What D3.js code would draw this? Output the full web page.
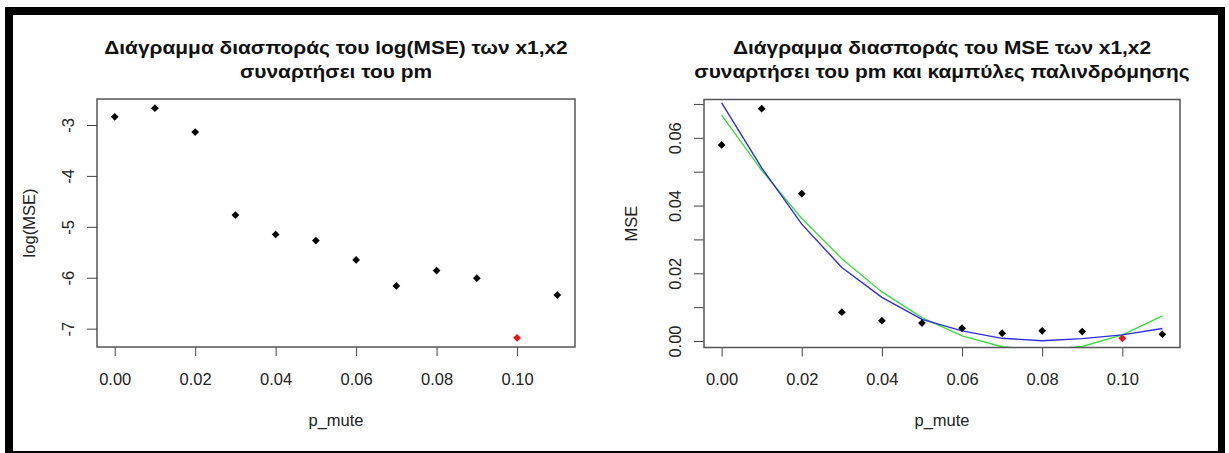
<!DOCTYPE html>
<html>
<head>
<meta charset="utf-8">
<script src="https://cdn.jsdelivr.net/npm/d3@7"></script>
<style>
  html, body { margin: 0; padding: 0; background: #fff; }
  svg { display: block; font-family: "Liberation Sans", Arial, sans-serif; }
</style>
</head>
<body>
<svg id="chart" width="1229" height="453"></svg>
<script>
// --- data ---
const pMute = [0.00, 0.01, 0.02, 0.03, 0.04, 0.05, 0.06, 0.07, 0.08, 0.09, 0.10, 0.11];
const logMse = [-2.84, -2.67, -3.14, -4.77, -5.15, -5.27, -5.65, -6.16, -5.86, -6.01, -7.18, -6.34];
const mse = [0.0579, 0.0686, 0.0435, 0.0085, 0.0060, 0.0053, 0.0038, 0.0023, 0.0030, 0.0028, 0.0008, 0.0020];
const blueFit = [0.0703, 0.0511, 0.0345, 0.0217, 0.0129, 0.0064, 0.0030, 0.0008, 0.0001, 0.0007, 0.0018, 0.0037];
const greenFit = [0.0667, 0.0504, 0.0362, 0.0243, 0.0145, 0.0069, 0.0015, -0.0017, -0.0027, -0.0016, 0.0018, 0.0074];
const bestIndex = 10; // red point (p_mute = 0.10)

const xTicks = [0, 0.02, 0.04, 0.06, 0.08, 0.10];
const logTicks = [-7, -6, -5, -4, -3];
const mseTicks = [0, 0.01, 0.02, 0.03, 0.04, 0.05, 0.06, 0.07];

const leftTitle = ["Διάγραμμα διασποράς του log(MSE) των x1,x2", "συναρτήσει του pm"];
const rightTitle = ["Διάγραμμα διασποράς του MSE των x1,x2", "συναρτήσει του pm και καμπύλες παλινδρόμησης"];

const svg = d3.select("#chart");

// outer frame (black band round the picture)
svg.append("rect").attr("x", 5).attr("y", 7).attr("width", 1220).attr("height", 446).attr("fill", "#000");
svg.append("rect").attr("x", 13).attr("y", 15).attr("width", 1205).attr("height", 436).attr("fill", "#fff");

const fmt2 = d3.format(".2f");

// R-like 4% padding of the data range
function padded(vals) {
  const [lo, hi] = d3.extent(vals);
  const e = (hi - lo) * 0.04;
  return [lo - e, hi + e];
}

function panel(opts) {
  const { left, right, top, bottom, yVals, yTicks, yLabelFmt, yTitle, yTitleX, title, id } = opts;
  const g = svg.append("g");

  const x = d3.scaleLinear().domain(padded(pMute)).range([left, right]);
  const y = d3.scaleLinear().domain(padded(yVals)).range([bottom, top]);

  // title, two lines (the source picture is a bit stretched sideways)
  title.forEach((t, i) => {
    g.append("text")
      .attr("transform", `translate(${(left + right) / 2},${54 + i * 24}) scale(1.1,1)`)
      .attr("text-anchor", "middle").attr("font-weight", "bold").attr("font-size", 19).attr("fill", "#111")
      .text(t);
  });

  // x axis
  const xa = g.append("g").attr("transform", `translate(0,${bottom})`)
    .call(d3.axisBottom(x).tickValues(xTicks).tickFormat(fmt2).tickSize(9).tickSizeOuter(0).tickPadding(17));
  xa.select(".domain").remove();
  xa.selectAll("line").attr("stroke", "#444");
  xa.selectAll("text").attr("font-size", 16.5).attr("fill", "#222").attr("font-family", null);

  // y axis, labels parallel to the axis
  const ya = g.append("g").attr("transform", `translate(${left},0)`)
    .call(d3.axisLeft(y).tickValues(yTicks).tickFormat(yLabelFmt).tickSize(10).tickSizeOuter(0));
  ya.select(".domain").remove();
  ya.selectAll("line").attr("stroke", "#444");
  ya.selectAll("text")
    .attr("x", null).attr("dy", null)
    .attr("text-anchor", "middle")
    .attr("transform", "translate(-23,0) rotate(-90)")
    .attr("font-size", 16.5).attr("fill", "#222").attr("font-family", null);

  // axis titles
  g.append("text")
    .attr("x", (left + right) / 2).attr("y", 426)
    .attr("text-anchor", "middle").attr("font-size", 16.5).attr("fill", "#222")
    .text("p_mute");
  g.append("text")
    .attr("transform", `translate(${yTitleX},${(top + bottom) / 2}) rotate(-90)`)
    .attr("text-anchor", "middle").attr("font-size", 16.5).attr("fill", "#222")
    .text(yTitle);

  // clip for fitted curves
  g.append("clipPath").attr("id", id)
    .append("rect").attr("x", left).attr("y", top).attr("width", right - left).attr("height", bottom - top);

  return { g, x, y };
}

function drawPoints(p, vals) {
  const diamond = d3.symbol().type(d3.symbolSquare).size(30);
  p.g.append("g").selectAll("path")
    .data(vals.map((v, i) => ({ px: pMute[i], v, i })))
    .join("path")
    .attr("d", diamond)
    .attr("transform", d => `translate(${p.x(d.px)},${p.y(d.v)}) rotate(45)`)
    .attr("fill", d => d.i === bestIndex ? "#e8141c" : "#000");
}

function drawBox(p, left, right, top, bottom) {
  p.g.append("rect")
    .attr("x", left).attr("y", top).attr("width", right - left).attr("height", bottom - top)
    .attr("fill", "none").attr("stroke", "#555").attr("stroke-width", 1.5);
}

// ---- left panel: log(MSE)
const L = { left: 97, right: 575, top: 99, bottom: 347 };
const pl = panel({
  ...L, yVals: logMse, yTicks: logTicks, yLabelFmt: d => String(d),
  yTitle: "log(MSE)", yTitleX: 35, title: leftTitle, id: "clipL"
});
drawBox(pl, L.left, L.right, L.top, L.bottom);
drawPoints(pl, logMse);

// ---- right panel: MSE + regression curves
const R = { left: 704, right: 1180, top: 99.5, bottom: 347.5 };
const pr = panel({
  ...R, yVals: mse, yTicks: mseTicks,
  yLabelFmt: d => Math.round(d * 100) % 2 === 0 ? fmt2(d) : "",
  yTitle: "MSE", yTitleX: 637, title: rightTitle, id: "clipR"
});

const line = d3.line().x((d, i) => pr.x(pMute[i])).y(d => pr.y(d));
const curves = pr.g.append("g").attr("clip-path", "url(#clipR)");
curves.append("path").datum(greenFit).attr("d", line)
  .attr("fill", "none").attr("stroke", "#3fdc3f").attr("stroke-width", 1.4);
curves.append("path").datum(blueFit).attr("d", line)
  .attr("fill", "none").attr("stroke", "#2e2ed8").attr("stroke-width", 1.4);

drawBox(pr, R.left, R.right, R.top, R.bottom);
drawPoints(pr, mse);
</script>
</body>
</html>
